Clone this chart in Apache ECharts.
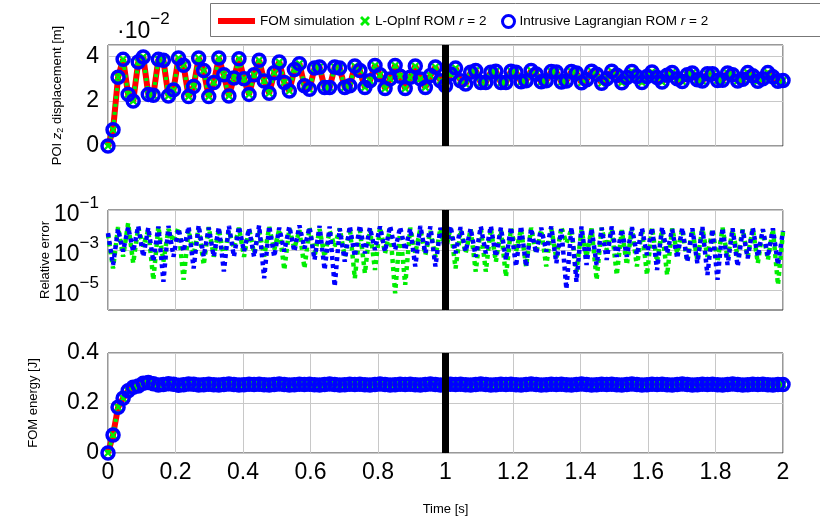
<!DOCTYPE html>
<html>
<head>
<meta charset="utf-8">
<script src="https://cdn.jsdelivr.net/npm/echarts@6.0.0/dist/echarts.min.js"></script>
<style>
  html, body { margin: 0; padding: 0; background: #fff; }
  #chart { width: 820px; height: 518px; }
</style>
</head>
<body>
<div id="chart"></div>
<script>
// POI z2 displacement, in units of 1e-2 m (axis reads "·10^-2")
const dispE2 = [
  0, 0.72, 3.06, 3.86, 2.30, 2.00, 3.74, 3.97, 2.30, 2.26,
  3.86, 3.82, 2.23, 2.50, 3.92, 3.60, 2.20, 2.65, 3.92, 3.36,
  2.20, 2.83, 3.92, 3.17, 2.23, 3.03, 3.89, 3.00, 2.30, 3.17,
  3.82, 2.90, 2.35, 3.26, 3.74, 2.83, 2.45, 3.41,
  3.67, 2.68, 2.53, 3.47, 3.52, 2.61, 2.61, 3.52, 3.47, 2.61,
  2.68, 3.56, 3.36, 2.61, 2.91, 3.59, 3.17, 2.56, 2.99, 3.59,
  3.11, 2.56, 3.06, 3.56, 2.99, 2.61, 3.14, 3.52, 2.91, 2.68,
  3.21, 3.47, 2.91, 2.76, 3.29, 3.36, 2.83, 2.83, 3.29, 3.33,
  2.83, 2.83, 3.33, 3.29, 2.86, 2.91, 3.36, 3.21, 2.86, 2.91,
  3.32,
  3.30, 2.85, 2.90, 3.32, 3.25, 2.82, 2.95, 3.33, 3.20, 2.80,
  3.00, 3.33, 3.15, 2.82, 3.05, 3.32, 3.10, 2.83, 3.10, 3.30,
  3.05, 2.85, 3.15, 3.28, 3.00, 2.87, 3.18, 3.25, 2.95, 2.90,
  3.22, 3.22, 2.92, 2.93, 3.25, 3.18, 2.90, 2.97, 3.27, 3.13,
  2.88, 3.00, 3.27, 3.08, 2.88, 2.92
];

// FOM energy [J]
const energy = [
  0, 0.072, 0.183, 0.219, 0.249, 0.263, 0.268, 0.279, 0.282, 0.277,
  0.272, 0.274, 0.277, 0.275, 0.271, 0.273, 0.276, 0.275, 0.272, 0.273,
  0.275, 0.273, 0.272, 0.274, 0.276, 0.274, 0.272, 0.273, 0.275, 0.274,
  0.275, 0.273, 0.272, 0.274, 0.276, 0.274, 0.272, 0.273, 0.275, 0.274,
  0.275, 0.273, 0.272, 0.274, 0.276, 0.274, 0.272, 0.273, 0.275, 0.274,
  0.275, 0.273, 0.272, 0.274, 0.276, 0.274, 0.272, 0.273, 0.275, 0.274,
  0.275, 0.273, 0.272, 0.274, 0.276, 0.274, 0.272, 0.273, 0.275, 0.274,
  0.275, 0.273, 0.272, 0.274, 0.276, 0.274, 0.272, 0.273, 0.275, 0.274,
  0.275, 0.273, 0.272, 0.274, 0.276, 0.274, 0.272, 0.273, 0.275, 0.274,
  0.275, 0.273, 0.272, 0.274, 0.276, 0.274, 0.272, 0.273, 0.275, 0.274,
  0.275, 0.273, 0.272, 0.274, 0.276, 0.274, 0.272, 0.273, 0.275, 0.274,
  0.275, 0.273, 0.272, 0.274, 0.276, 0.274, 0.272, 0.273, 0.275, 0.274,
  0.275, 0.273, 0.272, 0.274, 0.276, 0.274, 0.272, 0.273, 0.275, 0.274,
  0.275, 0.273, 0.272, 0.274, 0.274
];

// relative error, L-OpInf ROM: upper envelope (even steps) and dips (odd steps)
const opinfErrPeaks = [
  6e-3, 1.4e-2, 2.2e-2, 1.3e-2, 1.0e-2, 1.5e-2, 1.1e-2, 1.3e-2, 1.0e-2, 1.2e-2,
  1.4e-2, 1.1e-2, 9e-3, 1.3e-2, 1.2e-2, 1.0e-2, 1.4e-2, 1.1e-2, 1.2e-2, 1.0e-2,
  1.3e-2, 1.1e-2, 9e-3, 1.2e-2, 1.3e-2, 1.0e-2, 1.1e-2, 1.4e-2, 1.2e-2, 1.0e-2,
  1.3e-2, 1.1e-2, 9e-3, 1.2e-2, 1.3e-2, 1.0e-2, 1.1e-2, 1.3e-2, 1.2e-2, 1.0e-2,
  1.2e-2, 1.1e-2, 1.3e-2, 1.0e-2, 1.2e-2, 1.4e-2, 1.1e-2, 1.0e-2, 1.2e-2, 1.3e-2,
  1.1e-2, 1.0e-2, 1.2e-2, 1.1e-2, 1.3e-2, 1.0e-2, 1.2e-2, 1.1e-2, 1.0e-2, 1.2e-2,
  1.1e-2, 1.3e-2, 1.0e-2, 1.1e-2, 1.2e-2, 1.0e-2, 1.1e-2, 8e-3
];
const opinfErrDips = [
  1.2e-4, 4.6e-4, 2.2e-4, 1.5e-3, 3.2e-5, 2.6e-4, 2.6e-3, 3.2e-5, 5.6e-4, 1.8e-4,
  4.6e-4, 4.6e-4, 1.2e-3, 4.6e-4, 6.8e-4, 4.6e-4, 1.0e-3, 1.0e-4, 1.2e-3, 1.2e-4,
  4.6e-4, 4.6e-4, 1.5e-3, 4.6e-4, 3.8e-5, 6.8e-5, 1.0e-4, 6.8e-4, 6.8e-6, 1.8e-5,
  6.8e-4, 5.6e-4, 4.6e-4, 8.3e-4, 1.2e-4, 6.8e-4, 8.3e-5, 8.3e-5, 2.6e-4, 4.6e-5,
  8.3e-4, 1.5e-4, 6.8e-4, 1.5e-4,
  3.8e-4, 2.2e-3, 8.3e-5, 4.6e-4, 3.2e-5, 1.0e-3, 5.6e-5, 1.8e-4, 1.5e-4, 5.6e-5,
  2.6e-4, 5.6e-5, 6.8e-4, 2.6e-4, 3.2e-4, 4.6e-4, 2.6e-4, 3.8e-4, 4.6e-4, 4.6e-4,
  2.2e-4, 3.2e-4, 1.8e-5
];

// relative error, intrusive Lagrangian ROM
const lagrErrPeaks = [
  7e-3, 1.1e-2, 1.4e-2, 1.6e-2, 1.3e-2, 1.5e-2, 1.6e-2, 1.2e-2, 1.5e-2, 1.7e-2,
  1.3e-2, 1.4e-2, 1.6e-2, 1.5e-2, 1.2e-2, 1.7e-2, 1.6e-2, 1.3e-2, 1.5e-2, 1.7e-2,
  1.4e-2, 1.6e-2, 1.5e-2, 1.2e-2, 1.6e-2, 1.7e-2, 1.3e-2, 1.5e-2, 1.6e-2, 1.4e-2,
  1.2e-2, 1.6e-2, 1.5e-2, 1.3e-2, 1.6e-2, 1.4e-2, 1.2e-2, 1.5e-2, 1.6e-2, 1.3e-2,
  1.4e-2, 1.6e-2, 1.2e-2, 1.3e-2, 1.5e-2, 1.1e-2, 1.4e-2, 1.5e-2, 1.2e-2, 1.3e-2,
  1.5e-2, 1.1e-2, 1.4e-2, 1.2e-2, 1.3e-2, 1.4e-2, 1.1e-2, 1.3e-2, 1.2e-2, 1.4e-2,
  1.1e-2, 1.3e-2, 1.2e-2, 1.0e-2, 1.3e-2, 1.1e-2, 1.2e-2, 9e-3
];
const lagrErrDips = [
  1.8e-4, 8.3e-4, 8.3e-4, 4.6e-4, 2.6e-4, 2.6e-5, 4.6e-4, 8.3e-4, 1.2e-4, 4.6e-4,
  4.6e-4, 8.3e-5, 4.6e-4, 8.3e-4, 4.6e-4, 3.8e-5, 4.6e-4, 8.3e-4, 8.3e-4, 1.2e-3,
  3.2e-4, 1.0e-4, 1.5e-5, 2.6e-4, 4.6e-4, 6.8e-4, 1.0e-3, 8.3e-4, 1.0e-3, 1.0e-3,
  1.5e-4, 6.8e-4, 1.5e-4, 8.3e-4, 6.8e-4, 8.3e-4, 4.6e-4, 6.8e-4, 4.6e-4, 3.2e-4,
  1.5e-4, 1.5e-4, 6.8e-4, 8.3e-4,
  2.2e-4, 1.1e-5, 2.6e-5, 1.8e-4, 1.8e-4, 3.2e-4, 4.6e-4, 4.6e-4, 5.6e-4, 5.6e-4,
  1.0e-4, 6.8e-4, 3.8e-4, 2.6e-4, 2.2e-4, 5.6e-5, 3.2e-5, 1.8e-4, 1.5e-4, 3.8e-4,
  4.6e-4, 4.6e-4, 1.8e-4
];

const tEnd = 2;
const markTime = 1;
const times = dispE2.map((_, i) => i * tEnd / (dispE2.length - 1));

// peaks at even steps, dips at odd steps
function weave(peaks, dips) {
  const out = [];
  peaks.forEach((p, k) => {
    out.push(p);
    if (k < dips.length) out.push(dips[k]);
  });
  return out;
}
const opinfErr = weave(opinfErrPeaks, opinfErrDips);
const lagrErr = weave(lagrErrPeaks, lagrErrDips);

const pairs = (ys) => ys.map((y, i) => [times[i], y]);

const FONT = 'Liberation Sans';
const RED = '#ff0000', GREEN = '#00ee00', BLUE = '#0000ff';
const NAMES = ['FOM simulation', 'L-OpInf ROM r = 2', 'Intrusive Lagrangian ROM r = 2'];
const CROSS = 'path://M0,2 L2,0 L5,3 L8,0 L10,2 L7,5 L10,8 L8,10 L5,7 L2,10 L0,8 L3,5 Z';

let myChart = echarts.init(document.getElementById('chart'));

const grids = [
  { left: 108, right: 37, top: 45, height: 101 },
  { left: 108, right: 37, top: 210, height: 100 },
  { left: 108, right: 37, top: 353, height: 100 }
].map(g => Object.assign(g, { show: true, borderColor: '#333', borderWidth: 1, outerBoundsMode: 'none' }));

const xAxes = [0, 1, 2].map(k => ({
  type: 'value', gridIndex: k, min: 0, max: tEnd, interval: 0.2,
  axisLine: { show: false }, axisTick: { show: false },
  axisLabel: { show: k === 2, fontFamily: FONT, fontSize: 23, color: '#000', margin: 8 },
  splitLine: { show: true, lineStyle: { color: '#c8c8c8', width: 1 } },
  name: k === 2 ? 'Time [s]' : '', nameLocation: 'middle', nameGap: 50,
  nameTextStyle: { fontFamily: FONT, fontSize: 13, color: '#000' }
}));

// "10" with a raised exponent
const supRich = {
  b: { fontFamily: FONT, fontSize: 23, color: '#000', padding: [10, 0, 0, 0] },
  s: { fontFamily: FONT, fontSize: 17, color: '#000', padding: [0, 0, 14, 0] }
};

const yAxes = [
  {
    type: 'value', gridIndex: 0, min: 0, max: 4.5, interval: 2,
    axisLine: { show: false }, axisTick: { show: false },
    axisLabel: { fontFamily: FONT, fontSize: 23, color: '#000', margin: 9,
      formatter: v => (v % 2 === 0 ? String(v) : '') },
    splitLine: { lineStyle: { color: '#c8c8c8' } },
    name: 'POI {i|z}{sub|2} displacement [m]', nameLocation: 'middle', nameGap: 43,
    nameMoveOverlap: false,
    nameTextStyle: { fontFamily: FONT, fontSize: 13, color: '#000',
      rich: { i: { fontFamily: FONT, fontSize: 13, fontStyle: 'italic' },
              sub: { fontFamily: FONT, fontSize: 9, padding: [7, 0, 0, 0] } } }
  },
  {
    type: 'log', logBase: 10, gridIndex: 1, min: 1e-6, max: 1e-1,
    axisLine: { show: false }, axisTick: { show: false },
    axisLabel: { margin: 9, rich: supRich,
      formatter: v => {
        const e = Math.round(Math.log10(v));
        return e % 2 ? '{b|10}{s|\u2212' + Math.abs(e) + '}' : '';
      } },
    splitLine: { lineStyle: { color: ['transparent', '#c8c8c8'] } },
    name: 'Relative error', nameLocation: 'middle', nameGap: 56,
    nameMoveOverlap: false,
    nameTextStyle: { fontFamily: FONT, fontSize: 13, color: '#000' }
  },
  {
    type: 'value', gridIndex: 2, min: 0, max: 0.4, interval: 0.2,
    axisLine: { show: false }, axisTick: { show: false },
    axisLabel: { fontFamily: FONT, fontSize: 23, color: '#000', margin: 9 },
    splitLine: { lineStyle: { color: '#c8c8c8' } },
    name: 'FOM energy [J]', nameLocation: 'middle', nameGap: 68,
    nameMoveOverlap: false,
    nameTextStyle: { fontFamily: FONT, fontSize: 13, color: '#000' }
  }
];

const timeMark = {
  silent: true, symbol: 'none', label: { show: false },
  lineStyle: { color: '#000', width: 7, type: 'solid' },
  data: [{ xAxis: markTime }]
};

// the three curves of a panel: FOM line, L-OpInf crosses, Lagrangian circles
function panel(k, ys) {
  return [
    { name: NAMES[0], type: 'line', xAxisIndex: k, yAxisIndex: k, data: pairs(ys),
      showSymbol: false, lineStyle: { color: RED, width: 6 }, itemStyle: { color: RED }, z: 2 },
    { name: NAMES[1], type: 'line', xAxisIndex: k, yAxisIndex: k, data: pairs(ys),
      symbol: CROSS, symbolSize: 8, lineStyle: { color: GREEN, width: 4, type: [3, 5] },
      itemStyle: { color: GREEN }, z: 3 },
    { name: NAMES[2], type: 'line', xAxisIndex: k, yAxisIndex: k, data: pairs(ys),
      symbol: 'circle', symbolSize: 12, lineStyle: { width: 0, opacity: 0 },
      itemStyle: { color: 'rgba(0,0,0,0)', borderColor: BLUE, borderWidth: 3.5 }, z: 4,
      markLine: timeMark }
  ];
}

const series = [
  ...panel(0, dispE2),
  { name: NAMES[1], type: 'line', xAxisIndex: 1, yAxisIndex: 1, data: pairs(opinfErr),
    showSymbol: false, lineStyle: { color: GREEN, width: 4.5, type: [4, 4], cap: 'butt' },
    itemStyle: { color: GREEN }, z: 3 },
  { name: NAMES[2], type: 'line', xAxisIndex: 1, yAxisIndex: 1, data: pairs(lagrErr),
    showSymbol: false, lineStyle: { color: BLUE, width: 4.5, type: [4, 4], cap: 'butt' },
    itemStyle: { color: BLUE }, z: 4, markLine: timeMark },
  ...panel(2, energy)
];

const legendText = {
  fontFamily: FONT, fontSize: 13.5, color: '#000',
  rich: { i: { fontFamily: FONT, fontSize: 13.5, fontStyle: 'italic', color: '#000' } }
};
const legendFmt = name => name.replace('r = 2', '{i|r} = 2');

myChart.setOption({
  animation: false,
  backgroundColor: '#fff',
  grid: grids,
  xAxis: xAxes,
  yAxis: yAxes,
  legend: [
    { left: 213, top: 9, itemWidth: 37, itemHeight: 6, itemGap: 0, selectedMode: false,
      data: [{ name: NAMES[0], icon: 'rect', itemStyle: { color: RED } }],
      textStyle: legendText, formatter: legendFmt },
    { left: 355, top: 9, itemWidth: 10, itemHeight: 10, itemGap: 0, selectedMode: false,
      data: [{ name: NAMES[1], icon: CROSS, itemStyle: { color: GREEN } }],
      textStyle: legendText, formatter: legendFmt },
    { left: 496, top: 9, itemWidth: 12, itemHeight: 12, itemGap: 0, selectedMode: false,
      data: [{ name: NAMES[2], icon: 'circle',
        itemStyle: { color: '#fff', borderColor: BLUE, borderWidth: 3 } }],
      textStyle: legendText, formatter: legendFmt }
  ],
  graphic: [
    { type: 'rect', left: 210, top: 3, z: -1, silent: true,
      shape: { width: 640, height: 33 },
      style: { fill: '#fff', stroke: '#777', lineWidth: 1 } },
    { type: 'text', left: 117, top: 11, silent: true,
      style: { text: '{b|\u00b710}{s|\u22122}', rich: supRich } }
  ],
  series: series
});

window.addEventListener('resize', () => {
  myChart.resize();
});
</script>
</body>
</html>
